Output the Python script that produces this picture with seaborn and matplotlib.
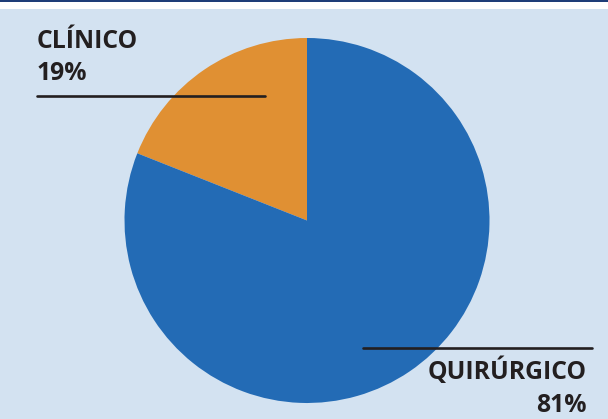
import matplotlib
matplotlib.use("Agg")
import matplotlib.pyplot as plt
from matplotlib.patches import Rectangle
from matplotlib.lines import Line2D
import seaborn as sns

categories = ["CLÍNICO", "QUIRÚRGICO"]
shares = [19, 81]
pct_labels = ["19%", "81%"]
colors = ["#e09033", "#236bb5"]

sns.set_theme(style="white")
plt.rcParams['font.family'] = ['Open Sans', 'DejaVu Sans']

W, H = 608, 419
fig = plt.figure(figsize=(W / 100, H / 100), dpi=100)
fig.patch.set_facecolor("white")


def px(x, y):
    return x / W, 1 - y / H


# background panel + top rule
fig.add_artist(Rectangle((0, 0), 1, 1 - 9 / H, transform=fig.transFigure,
                         facecolor="#d3e2f1", edgecolor="none", zorder=0))
fig.add_artist(Rectangle(px(0, 2), 1, 2 / H, transform=fig.transFigure,
                         facecolor="#1e3d78", edgecolor="none", zorder=0))

# pie
cx, cy, r = 307, 220.5, 182.5
ax = fig.add_axes([(cx - r) / W, (H - cy - r) / H, 2 * r / W, 2 * r / H])
ax.pie(shares, colors=colors, startangle=90, counterclock=True,
       wedgeprops=dict(linewidth=0))
ax.set_xlim(-1, 1)
ax.set_ylim(-1, 1)
ax.axis("off")

txt = dict(fontsize=17.8, fontweight="bold", color="#231f20", va="baseline")

# CLÍNICO label
fig.text(*px(37, 48), categories[0], ha="left", **txt)
fig.text(*px(37, 80), pct_labels[0], ha="left", **txt)
fig.add_artist(Line2D([37 / W, 265 / W], [1 - 96 / H] * 2, transform=fig.transFigure,
                      color="#231f20", linewidth=1.9, zorder=5))

# QUIRÚRGICO label
fig.text(*px(587, 379), categories[1], ha="right", **txt)
fig.text(*px(587, 412), pct_labels[1], ha="right", **txt)
fig.add_artist(Line2D([363 / W, 592 / W], [1 - 348 / H] * 2, transform=fig.transFigure,
                      color="#231f20", linewidth=1.9, zorder=5))

fig.savefig("out.png", dpi=100)
